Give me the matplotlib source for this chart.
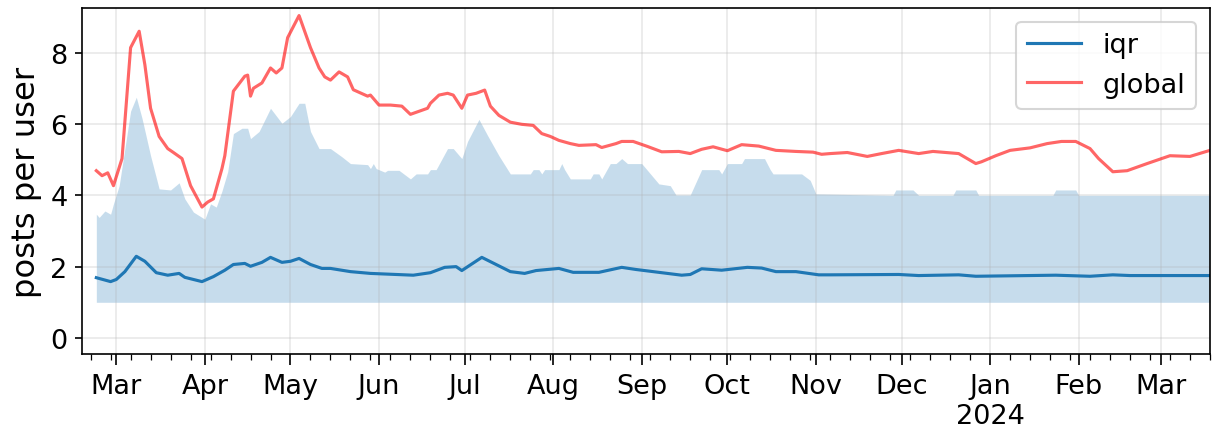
import matplotlib
matplotlib.use("Agg")
import matplotlib.pyplot as plt
import matplotlib.dates as mdates
from matplotlib.ticker import FuncFormatter
import pandas as pd

# ---- data ----
global_dates = ["2023-02-22", "2023-02-24", "2023-02-26", "2023-02-28", "2023-03-03", "2023-03-06",
                "2023-03-09", "2023-03-11", "2023-03-13", "2023-03-16", "2023-03-19", "2023-03-21",
                "2023-03-24", "2023-03-27", "2023-03-31", "2023-04-02", "2023-04-04", "2023-04-07",
                "2023-04-08", "2023-04-11", "2023-04-15", "2023-04-16", "2023-04-17", "2023-04-18",
                "2023-04-21", "2023-04-24", "2023-04-26", "2023-04-28", "2023-04-30", "2023-05-04",
                "2023-05-08", "2023-05-11", "2023-05-13", "2023-05-15", "2023-05-18", "2023-05-21",
                "2023-05-23", "2023-05-28", "2023-05-29", "2023-06-01", "2023-06-05", "2023-06-09",
                "2023-06-12", "2023-06-18", "2023-06-19", "2023-06-22", "2023-06-25", "2023-06-27",
                "2023-06-30", "2023-07-02", "2023-07-05", "2023-07-08", "2023-07-10", "2023-07-13",
                "2023-07-17", "2023-07-21", "2023-07-25", "2023-07-28", "2023-07-31", "2023-08-03",
                "2023-08-07", "2023-08-10", "2023-08-16", "2023-08-18", "2023-08-23", "2023-08-25",
                "2023-08-29", "2023-09-03", "2023-09-08", "2023-09-14", "2023-09-18", "2023-09-22",
                "2023-09-26", "2023-10-01", "2023-10-06", "2023-10-12", "2023-10-18", "2023-10-25",
                "2023-10-31", "2023-11-03", "2023-11-06", "2023-11-12", "2023-11-19", "2023-11-24",
                "2023-11-30", "2023-12-07", "2023-12-12", "2023-12-21", "2023-12-24", "2023-12-27",
                "2023-12-29", "2024-01-03", "2024-01-08", "2024-01-15", "2024-01-21", "2024-01-26",
                "2024-01-31", "2024-02-05", "2024-02-08", "2024-02-13", "2024-02-18", "2024-02-25",
                "2024-03-04", "2024-03-11", "2024-03-18"]
global_vals = [4.69, 4.55, 4.63, 4.27, 5.03, 8.14,
               8.60, 7.66, 6.44, 5.65, 5.31, 5.20,
               5.03, 4.27, 3.67, 3.81, 3.90, 4.75,
               5.11, 6.92, 7.34, 7.37, 6.78, 7.00,
               7.15, 7.57, 7.43, 7.57, 8.42, 9.04,
               8.14, 7.57, 7.32, 7.23, 7.46, 7.32,
               6.96, 6.78, 6.81, 6.53, 6.53, 6.50,
               6.27, 6.44, 6.58, 6.81, 6.86, 6.81,
               6.44, 6.81, 6.86, 6.95, 6.50, 6.24,
               6.05, 5.99, 5.96, 5.73, 5.65, 5.54,
               5.45, 5.40, 5.42, 5.34, 5.45, 5.51,
               5.51, 5.37, 5.22, 5.23, 5.17, 5.29,
               5.36, 5.25, 5.42, 5.38, 5.26, 5.23,
               5.21, 5.15, 5.17, 5.20, 5.09, 5.17,
               5.26, 5.17, 5.23, 5.17, 5.03, 4.89,
               4.94, 5.11, 5.26, 5.33, 5.45, 5.51,
               5.51, 5.31, 5.03, 4.66, 4.69, 4.89,
               5.11, 5.09, 5.26]

iqr_dates = ["2023-02-22", "2023-02-27", "2023-03-01", "2023-03-04", "2023-03-08", "2023-03-11",
             "2023-03-15", "2023-03-19", "2023-03-23", "2023-03-25", "2023-03-31", "2023-04-04",
             "2023-04-08", "2023-04-11", "2023-04-15", "2023-04-17", "2023-04-21", "2023-04-24",
             "2023-04-28", "2023-05-01", "2023-05-04", "2023-05-08", "2023-05-12", "2023-05-15",
             "2023-05-22", "2023-05-29", "2023-06-13", "2023-06-19", "2023-06-24", "2023-06-28",
             "2023-06-30", "2023-07-07", "2023-07-17", "2023-07-22", "2023-07-26", "2023-08-03",
             "2023-08-08", "2023-08-17", "2023-08-25", "2023-08-30", "2023-09-08", "2023-09-15",
             "2023-09-18", "2023-09-22", "2023-09-29", "2023-10-08", "2023-10-13", "2023-10-18",
             "2023-10-25", "2023-11-02", "2023-11-06", "2023-11-30", "2023-12-07", "2023-12-21",
             "2023-12-27", "2024-01-24", "2024-02-05", "2024-02-13", "2024-02-19", "2024-03-18"]
iqr_vals = [1.69, 1.58, 1.64, 1.86, 2.29, 2.15,
            1.83, 1.76, 1.81, 1.70, 1.58, 1.72,
            1.90, 2.06, 2.09, 2.01, 2.12, 2.26,
            2.12, 2.15, 2.23, 2.06, 1.95, 1.95,
            1.86, 1.81, 1.76, 1.83, 1.98, 2.00,
            1.89, 2.26, 1.86, 1.81, 1.89, 1.95,
            1.84, 1.84, 1.98, 1.92, 1.83, 1.76,
            1.78, 1.94, 1.90, 1.98, 1.96, 1.86,
            1.86, 1.77, 1.77, 1.78, 1.75, 1.77,
            1.73, 1.76, 1.73, 1.77, 1.75, 1.75]

upper_dates = ["2023-02-22", "2023-02-23", "2023-02-25", "2023-02-27", "2023-02-28", "2023-03-02",
               "2023-03-04", "2023-03-06", "2023-03-08", "2023-03-10", "2023-03-13", "2023-03-16",
               "2023-03-20", "2023-03-23", "2023-03-25", "2023-03-28", "2023-04-01", "2023-04-03",
               "2023-04-05", "2023-04-07", "2023-04-09", "2023-04-11", "2023-04-14", "2023-04-16",
               "2023-04-17", "2023-04-20", "2023-04-24", "2023-04-28", "2023-05-01", "2023-05-04",
               "2023-05-06", "2023-05-08", "2023-05-11", "2023-05-15", "2023-05-19", "2023-05-22",
               "2023-05-28", "2023-05-29", "2023-05-30", "2023-05-31", "2023-06-03", "2023-06-04",
               "2023-06-08", "2023-06-12", "2023-06-14", "2023-06-18", "2023-06-19", "2023-06-21",
               "2023-06-25", "2023-06-27", "2023-06-30", "2023-07-02", "2023-07-06", "2023-07-09",
               "2023-07-13", "2023-07-17", "2023-07-24", "2023-07-25", "2023-07-27", "2023-07-28",
               "2023-07-29", "2023-08-03", "2023-08-04", "2023-08-05", "2023-08-07", "2023-08-14",
               "2023-08-15", "2023-08-17", "2023-08-18", "2023-08-21", "2023-08-23", "2023-08-25",
               "2023-08-27", "2023-09-01", "2023-09-03", "2023-09-07", "2023-09-11", "2023-09-13",
               "2023-09-18", "2023-09-22", "2023-09-28", "2023-09-29", "2023-10-01", "2023-10-06",
               "2023-10-07", "2023-10-14", "2023-10-16", "2023-10-17", "2023-10-27", "2023-10-30",
               "2023-11-01", "2023-11-28", "2023-11-29", "2023-12-05", "2023-12-07", "2023-12-19",
               "2023-12-20", "2023-12-27", "2023-12-28", "2024-01-23", "2024-01-24", "2024-01-31",
               "2024-02-01", "2024-03-18"]
upper_vals = [3.47, 3.38, 3.56, 3.47, 3.76, 4.27,
              5.31, 6.36, 6.75, 6.16, 5.11, 4.18,
              4.15, 4.35, 3.90, 3.53, 3.33, 3.76,
              3.67, 4.12, 4.66, 5.73, 5.88, 5.88,
              5.59, 5.79, 6.44, 6.02, 6.21, 6.58,
              6.58, 5.79, 5.31, 5.31, 5.08, 4.89,
              4.86, 4.75, 4.89, 4.75, 4.65, 4.70,
              4.70, 4.46, 4.60, 4.60, 4.72, 4.72,
              5.31, 5.31, 5.03, 5.51, 6.13, 5.68,
              5.11, 4.60, 4.60, 4.72, 4.72, 4.60,
              4.72, 4.72, 4.89, 4.72, 4.46, 4.46,
              4.60, 4.60, 4.46, 4.89, 4.89, 5.03,
              4.89, 4.89, 4.70, 4.32, 4.27, 4.01,
              4.01, 4.72, 4.72, 4.60, 4.89, 4.89,
              5.03, 5.03, 4.72, 4.60, 4.60, 4.42,
              4.04, 4.00, 4.15, 4.15, 4.00, 4.00,
              4.15, 4.15, 4.00, 4.00, 4.15, 4.15,
              4.00, 4.00]

lower_dates = ["2023-02-22", "2024-03-18"]
lower_vals = [1.0, 1.0]

x_start, x_end = "2023-02-17", "2024-03-18"

# ---- figure ----
plt.rcParams['font.family'] = ['DejaVu Sans']
plt.rcParams['font.size'] = 13
fig = plt.figure(figsize=(8.08, 2.8733), dpi=150)
ax = fig.add_axes([0.0677, 0.1763, 0.9306, 0.8027])

up = pd.Series(upper_vals, index=pd.to_datetime(upper_dates))
lo = pd.Series(lower_vals, index=pd.to_datetime(lower_dates))
idx = up.index.union(lo.index)
lo_full = lo.reindex(idx).ffill()
ax.fill_between(up.index, lo_full.reindex(up.index).values, up.values,
                color='tab:blue', alpha=0.25, linewidth=0)
ax.plot(pd.to_datetime(iqr_dates), iqr_vals, color='tab:blue', lw=1.5, label='iqr')
ax.plot(pd.to_datetime(global_dates), global_vals, color='red', alpha=0.6, lw=1.5, label='global')

ax.set_xlim(pd.Timestamp(x_start), pd.Timestamp(x_end))
ax.set_ylim(-0.45, 9.25)
ax.set_yticks([0, 2, 4, 6, 8])
ax.set_ylabel('posts per user', fontsize=15.5)

ax.xaxis.set_major_locator(mdates.MonthLocator())
ax.xaxis.set_minor_locator(mdates.WeekdayLocator(byweekday=mdates.MO))

def fmt(x, pos):
    d = mdates.num2date(x)
    return d.strftime('%b\n%Y') if d.month == 1 else d.strftime('%b')

ax.xaxis.set_major_formatter(FuncFormatter(fmt))
ax.tick_params(axis='x', which='major', length=5.5)
ax.tick_params(axis='x', which='minor', length=3)
ax.grid(True, which='major', color='#b0b0b0', alpha=0.28, lw=0.8)
ax.legend(loc='upper right', fontsize=13)

fig.savefig('out.png', dpi=150)
